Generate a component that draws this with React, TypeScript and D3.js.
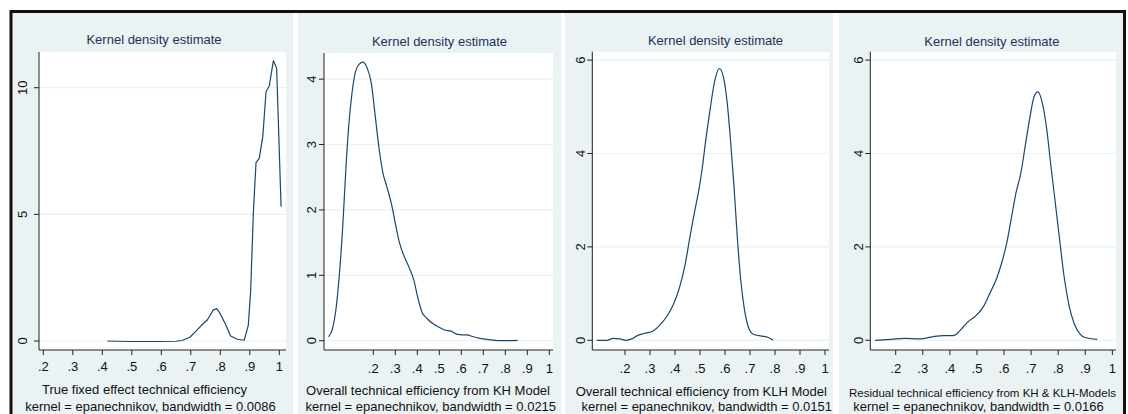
import * as d3 from 'd3'

// True fixed effect technical efficiency
const tfeEff = [0.417, 0.45, 0.5, 0.55, 0.6, 0.65, 0.67, 0.697, 0.72, 0.743, 0.756, 0.776, 0.788, 0.799, 0.816, 0.835, 0.858, 0.881, 0.895, 0.903, 0.912, 0.921, 0.932, 0.944, 0.955, 0.966, 0.98, 0.991, 1.006]
const tfeDensity = [0.0, -0.01, -0.02, -0.02, -0.02, -0.01, 0.02, 0.15, 0.42, 0.7, 0.83, 1.22, 1.28, 1.09, 0.7, 0.2, 0.07, 0.03, 0.63, 2.0, 5.04, 7.04, 7.21, 8.07, 9.84, 10.07, 11.07, 10.77, 5.3]

// Overall technical efficiency from KH Model
const khEff = [-0.003, 0.015, 0.03, 0.045, 0.061, 0.076, 0.088, 0.103, 0.118, 0.136, 0.153, 0.171, 0.191, 0.209, 0.227, 0.243, 0.262, 0.282, 0.3, 0.318, 0.338, 0.364, 0.384, 0.403, 0.421, 0.444, 0.475, 0.497, 0.527, 0.55, 0.58, 0.603, 0.624, 0.655, 0.685, 0.715, 0.745, 0.775, 0.806, 0.856]
const khDensity = [0.06, 0.19, 0.47, 0.98, 1.74, 2.66, 3.27, 3.78, 4.1, 4.23, 4.26, 4.18, 3.94, 3.43, 2.92, 2.58, 2.35, 2.1, 1.8, 1.51, 1.31, 1.11, 0.93, 0.65, 0.44, 0.34, 0.25, 0.21, 0.16, 0.15, 0.1, 0.09, 0.09, 0.06, 0.036, 0.02, 0.01, 0.0, 0.0, 0.005]

// Overall technical efficiency from KLH Model
const klhEff = [0.087, 0.127, 0.153, 0.18, 0.204, 0.227, 0.253, 0.28, 0.313, 0.34, 0.367, 0.393, 0.417, 0.44, 0.46, 0.477, 0.493, 0.507, 0.524, 0.54, 0.56, 0.577, 0.593, 0.609, 0.623, 0.636, 0.649, 0.663, 0.676, 0.693, 0.713, 0.747, 0.773, 0.793]
const klhDensity = [0.0, 0.0, 0.04, 0.03, 0.0, 0.03, 0.11, 0.15, 0.2, 0.33, 0.51, 0.76, 1.11, 1.61, 2.22, 2.72, 3.15, 3.61, 4.33, 4.93, 5.58, 5.82, 5.65, 5.08, 4.22, 3.29, 2.22, 1.29, 0.72, 0.29, 0.13, 0.09, 0.06, 0.0]

// Residual technical efficiency
const resEff = [0.124, 0.184, 0.233, 0.29, 0.339, 0.376, 0.413, 0.428, 0.45, 0.468, 0.493, 0.524, 0.548, 0.573, 0.591, 0.61, 0.628, 0.644, 0.662, 0.678, 0.696, 0.711, 0.725, 0.743, 0.758, 0.772, 0.788, 0.804, 0.822, 0.841, 0.859, 0.881, 0.898, 0.944]
const resDensity = [0.0, 0.02, 0.04, 0.03, 0.08, 0.1, 0.1, 0.15, 0.29, 0.4, 0.51, 0.72, 1.01, 1.33, 1.65, 2.08, 2.65, 3.15, 3.58, 4.15, 4.79, 5.22, 5.32, 5.04, 4.51, 3.79, 3.01, 2.22, 1.36, 0.72, 0.36, 0.13, 0.06, 0.02]

const xTicks = [0.2, 0.3, 0.4, 0.5, 0.6, 0.7, 0.8, 0.9, 1]
const yTicksTfe = [0, 5, 10]
const yTicksKh = [0, 1, 2, 3, 4]
const yTicksKlh = [0, 2, 4, 6]

const xTitles = [
  'True fixed effect technical efficiency',
  'Overall technical efficiency from KH Model',
  'Overall technical efficiency from KLH Model',
  'Residual technical efficiency from KH & KLH-Models',
]
const bandwidths = ['0.0086', '0.0215', '0.0151', '0.0166']

const W = 1128
const H = 414
const FONT = '"Liberation Sans", Arial, sans-serif'
const BG = '#eaf2f3'
const LINE = '#1a476f'
const TITLE = '#1e3358'

interface PanelSpec {
  bg: [number, number]
  plot: { x0: number; x1: number; y0: number; y1: number }
  xDomain: [number, number]
  yDomain: [number, number]
  yTicks: number[]
  xs: number[]
  ys: number[]
  smooth: boolean
  titleX: number
  titleY: number
  yLabelX: number
  tickY: number
  xTitleX: number
  xTitleY: number
  xTitleSize: number
  xTitleAnchor: 'start' | 'middle'
  noteX: number
}

const panels: PanelSpec[] = [
  {
    bg: [12, 293], plot: { x0: 39, x1: 286, y0: 52, y1: 350 },
    xDomain: [0.1854, 1.0227], yDomain: [-0.355, 11.41], yTicks: yTicksTfe,
    xs: tfeEff, ys: tfeDensity, smooth: false,
    titleX: 154, titleY: 44, yLabelX: 27, tickY: 371,
    xTitleX: 144.5, xTitleY: 393.5, xTitleSize: 13, xTitleAnchor: 'middle', noteX: 150.5,
  },
  {
    bg: [298, 561], plot: { x0: 324, x1: 553, y0: 53, y1: 350 },
    xDomain: [-0.024, 1.0168], yDomain: [-0.142, 4.4], yTicks: yTicksKh,
    xs: khEff, ys: khDensity, smooth: true,
    titleX: 439.5, titleY: 46, yLabelX: 315.5, tickY: 372.5,
    xTitleX: 428, xTitleY: 394.5, xTitleSize: 13, xTitleAnchor: 'middle', noteX: 430.8,
  },
  {
    bg: [565, 833], plot: { x0: 592.3, x1: 829, y0: 51.7, y1: 350 },
    xDomain: [0.0692, 1.016], yDomain: [-0.208, 6.18], yTicks: yTicksKlh,
    xs: klhEff, ys: klhDensity, smooth: true,
    titleX: 715.5, titleY: 44.5, yLabelX: 585, tickY: 372.5,
    xTitleX: 701.3, xTitleY: 396, xTitleSize: 13, xTitleAnchor: 'middle', noteX: 706.7,
  },
  {
    bg: [839, 1126], plot: { x0: 870.3, x1: 1116, y0: 51.7, y1: 350 },
    xDomain: [0.1062, 1.0135], yDomain: [-0.208, 6.18], yTicks: yTicksKlh,
    xs: resEff, ys: resDensity, smooth: true,
    titleX: 991.8, titleY: 46, yLabelX: 863, tickY: 372.5,
    xTitleX: 849, xTitleY: 397, xTitleSize: 11.5, xTitleAnchor: 'start', noteX: 978.5,
  },
]

const fmtTick = (v: number) => (v === 1 ? '1' : d3.format('.1f')(v).replace(/^0/, ''))

function Panel({ p, i }: { p: PanelSpec; i: number }) {
  const x = d3.scaleLinear().domain(p.xDomain).range([p.plot.x0, p.plot.x1])
  const y = d3.scaleLinear().domain(p.yDomain).range([p.plot.y1, p.plot.y0])
  const pts: [number, number][] = p.xs.map((v, k) => [v, p.ys[k]])
  const line = d3
    .line<[number, number]>()
    .x(d => x(d[0]))
    .y(d => y(d[1]))
    .curve(p.smooth ? d3.curveMonotoneX : d3.curveLinear)

  return (
    <g>
      <rect x={p.bg[0]} y={12} width={p.bg[1] - p.bg[0]} height={H} fill={BG} />
      <rect x={p.plot.x0} y={p.plot.y0} width={p.plot.x1 - p.plot.x0} height={p.plot.y1 - p.plot.y0} fill="#fff" />

      {/* grid */}
      {p.yTicks.map(t => (
        <line key={'g' + t} x1={p.plot.x0} x2={p.plot.x1} y1={y(t)} y2={y(t)} stroke={BG} strokeWidth={1.2} />
      ))}

      <path d={line(pts) ?? ''} fill="none" stroke={LINE} strokeWidth={1.2} strokeLinejoin="round" />

      {/* axes */}
      <line x1={p.plot.x0} x2={p.plot.x0} y1={p.plot.y0} y2={p.plot.y1} stroke="#222" strokeWidth={1} />
      <line x1={p.plot.x0} x2={p.plot.x1} y1={p.plot.y1} y2={p.plot.y1} stroke="#222" strokeWidth={1} />

      {p.yTicks.map(t => (
        <g key={'y' + t}>
          <line x1={p.plot.x0 - 5} x2={p.plot.x0} y1={y(t)} y2={y(t)} stroke="#222" />
          <text
            transform={`translate(${p.yLabelX},${y(t)}) rotate(-90)`}
            textAnchor="middle"
            fontSize={13}
            fontFamily={FONT}
            fill="#111"
          >
            {t}
          </text>
        </g>
      ))}

      {xTicks.map(t => (
        <g key={'x' + t}>
          <line x1={x(t)} x2={x(t)} y1={p.plot.y1} y2={p.plot.y1 + 5} stroke="#222" />
          <text x={x(t)} y={p.tickY} textAnchor="middle" fontSize={13} fontFamily={FONT} fill="#111">
            {fmtTick(t)}
          </text>
        </g>
      ))}

      <text x={p.titleX} y={p.titleY} textAnchor="middle" fontSize={13} fontFamily={FONT} fill={TITLE}>
        Kernel density estimate
      </text>

      <text
        x={p.xTitleX}
        y={p.xTitleY}
        textAnchor={p.xTitleAnchor}
        fontSize={p.xTitleSize}
        fontFamily={FONT}
        fill="#111"
      >
        {xTitles[i]}
      </text>

      <text x={p.noteX} y={410.5} textAnchor="middle" fontSize={13} fontFamily={FONT} fill="#111">
        {`kernel = epanechnikov, bandwidth = ${bandwidths[i]}`}
      </text>
    </g>
  )
}

export default function App() {
  return (
    <div style={{ position: 'fixed', left: 0, top: 0 }}>
      <svg width={W} height={H} viewBox={`0 0 ${W} ${H}`} style={{ display: 'block', background: '#fff' }}>
        {panels.map((p, i) => (
          <Panel key={i} p={p} i={i} />
        ))}
        {/* outer frame */}
        <path d={`M11,${H + 2} V11.5 H1124.5 V${H + 2}`} fill="none" stroke="#111" strokeWidth={3} />
      </svg>
    </div>
  )
}
